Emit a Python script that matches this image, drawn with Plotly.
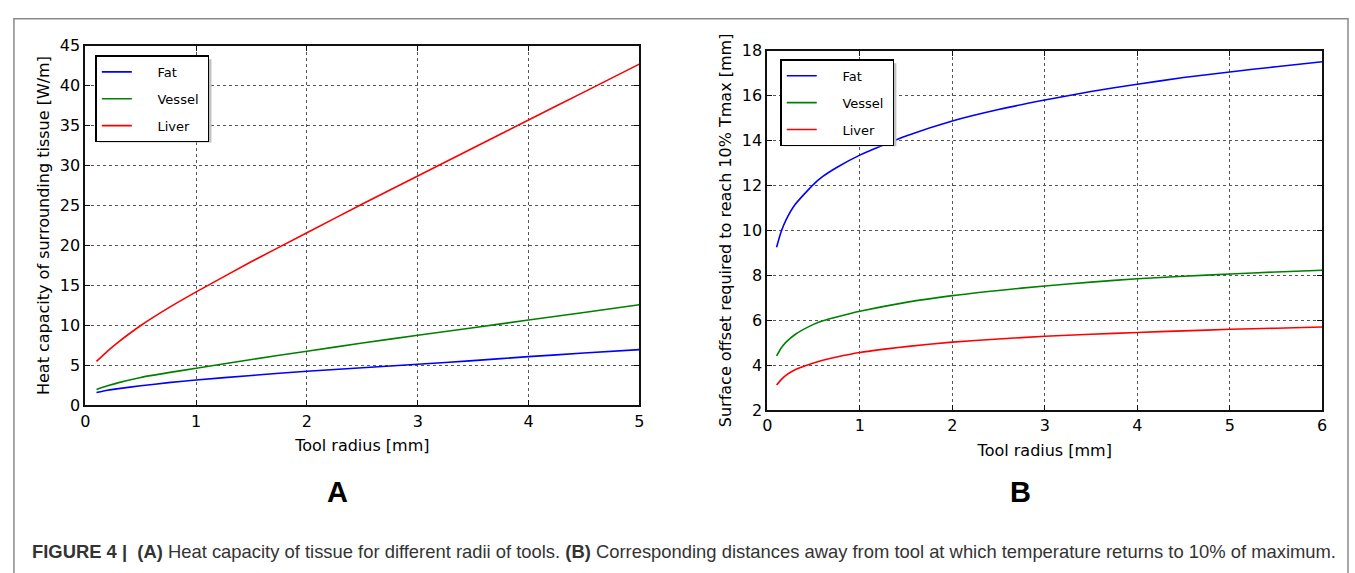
import plotly.graph_objects as go

# ---- Panel A: heat capacity of surrounding tissue vs tool radius ----
radius_a = [0.1, 0.2, 0.3, 0.5, 0.75, 1.0, 1.5, 2.0, 2.5, 3.0, 3.5, 4.0, 4.5, 5.0]
fat_a = [1.62, 1.9, 2.1, 2.45, 2.85, 3.18, 3.75, 4.27, 4.72, 5.15, 5.6, 6.1, 6.55, 6.98]
vessel_a = [2.0, 2.45, 2.85, 3.5, 4.1, 4.65, 5.75, 6.78, 7.8, 8.77, 9.72, 10.68, 11.63, 12.6]
liver_a = [5.5, 6.8, 7.95, 10.0, 12.2, 14.2, 18.0, 21.6, 25.2, 28.7, 32.2, 35.7, 39.2, 42.7]

# ---- Panel B: surface offset needed to reach 10% of Tmax ----
radius_b = [0.1, 0.15, 0.2, 0.3, 0.5, 0.6, 0.75, 1.0, 1.5, 2.0, 2.5, 3.0, 3.5, 4.0, 4.5, 5.0, 5.5, 6.0]
fat_b = [9.25, 9.95, 10.45, 11.15, 12.05, 12.4, 12.8, 13.35, 14.2, 14.87, 15.38, 15.8, 16.18, 16.5, 16.8, 17.05, 17.28, 17.5]
vessel_b = [4.42, 4.77, 5.02, 5.37, 5.82, 5.98, 6.15, 6.4, 6.8, 7.1, 7.33, 7.53, 7.7, 7.85, 7.96, 8.06, 8.15, 8.23]
liver_b = [3.12, 3.36, 3.55, 3.8, 4.1, 4.22, 4.37, 4.57, 4.83, 5.03, 5.17, 5.29, 5.38, 5.46, 5.53, 5.6, 5.65, 5.7]

series_names = ["Fat", "Vessel", "Liver"]
series_colors = ["#0000ff", "#008000", "#ff0000"]

xticks_a = [0, 1, 2, 3, 4, 5]
yticks_a = [0, 5, 10, 15, 20, 25, 30, 35, 40, 45]
xticks_b = [0, 1, 2, 3, 4, 5, 6]
yticks_b = [2, 4, 6, 8, 10, 12, 14, 16, 18]

W, H = 1355, 573


def px(x):
    return x / W


def py(y):
    return 1 - y / H


# matplotlib-style legend spacing between the line sample and the label
NB = "\u00a0"


def legend_label(name):
    return NB * 5 + name + NB


fig = go.Figure()

for name, color, ys in zip(series_names, series_colors, [fat_a, vessel_a, liver_a]):
    fig.add_trace(go.Scatter(
        x=radius_a, y=ys, name=legend_label(name), mode="lines",
        line=dict(color=color, width=1.6, shape="spline", smoothing=0.6),
        xaxis="x", yaxis="y", legend="legend", legendgroup="a" + name,
    ))

for name, color, ys in zip(series_names, series_colors, [fat_b, vessel_b, liver_b]):
    fig.add_trace(go.Scatter(
        x=radius_b, y=ys, name=legend_label(name), mode="lines",
        line=dict(color=color, width=1.6, shape="spline", smoothing=0.6),
        xaxis="x2", yaxis="y2", legend="legend2", legendgroup="b" + name,
    ))

tick_font = dict(family="DejaVu Sans", size=16, color="#000000")
title_font = dict(family="DejaVu Sans", size=16, color="#000000")

axis_common = dict(
    showline=True, linecolor="#111111", linewidth=2, mirror="allticks",
    ticks="inside", ticklen=5, tickwidth=1, tickcolor="#111111",
    showgrid=True, gridcolor="#555555", gridwidth=1, griddash="dot",
    zeroline=False, tickfont=tick_font, title_font=title_font,
)

legend_common = dict(
    bgcolor="#ffffff", bordercolor="#000000", borderwidth=1.5,
    font=dict(family="DejaVu Sans", size=13, color="#000000"),
    xanchor="left", yanchor="top", tracegroupgap=7,
    itemwidth=30,
)

fig.update_layout(
    width=W, height=H,
    margin=dict(l=0, r=0, t=0, b=0),
    paper_bgcolor="#ffffff", plot_bgcolor="#ffffff",
    showlegend=True,
    xaxis=dict(axis_common, domain=[px(81), px(639)], range=[0, 5],
               tickvals=xticks_a, anchor="y",
               title=dict(text="Tool radius [mm]", standoff=10)),
    yaxis=dict(axis_common, domain=[py(410), py(38)], range=[0, 45],
               tickvals=yticks_a, anchor="x",
               title=dict(text="Heat capacity of surrounding tissue [W/m]", standoff=6)),
    xaxis2=dict(axis_common, domain=[px(768), px(1327)], range=[0, 6],
                tickvals=xticks_b, anchor="y2",
                title=dict(text="Tool radius [mm]", standoff=10)),
    yaxis2=dict(axis_common, domain=[py(415), py(43)], range=[2, 18],
                tickvals=yticks_b, anchor="x2",
                title=dict(text="Surface offset required to reach 10% Tmax [mm]", standoff=6)),
    legend=dict(legend_common, x=px(91), y=py(48)),
    legend2=dict(legend_common, x=px(781), y=py(52)),
)

# legend drop shadows and the outer figure frame
shapes = [
    dict(type="rect", xref="paper", yref="paper",
         x0=px(95), x1=px(208), y0=py(138), y1=py(52),
         fillcolor="#c2c2c2", line=dict(width=0), layer="above"),
    dict(type="rect", xref="paper", yref="paper",
         x0=px(785), x1=px(898), y0=py(142), y1=py(56),
         fillcolor="#c2c2c2", line=dict(width=0), layer="above"),
    dict(type="rect", xref="paper", yref="paper",
         x0=px(9), x1=px(1353), y0=-0.05, y1=py(10),
         fillcolor="rgba(0,0,0,0)", line=dict(color="#8a8a8a", width=1.5), layer="below"),
]
fig.update_layout(shapes=shapes)

annotations = [
    dict(text="<b>A</b>", x=px(335), y=py(500), xref="paper", yref="paper",
         showarrow=False, xanchor="center", yanchor="middle",
         font=dict(family="Liberation Sans", size=29, color="#000000")),
    dict(text="<b>B</b>", x=px(1023), y=py(500), xref="paper", yref="paper",
         showarrow=False, xanchor="center", yanchor="middle",
         font=dict(family="Liberation Sans", size=29, color="#000000")),
    dict(text="<b>FIGURE 4 |</b>  <b>(A)</b> Heat capacity of tissue for different radii of tools. "
              "<b>(B)</b> Corresponding distances away from tool at which temperature returns to 10% of maximum.",
         x=px(25), y=py(561), xref="paper", yref="paper",
         showarrow=False, xanchor="left", yanchor="middle",
         font=dict(family="Liberation Sans", size=18.4, color="#333333")),
]
fig.update_layout(annotations=annotations)

fig.write_html("out.html")
